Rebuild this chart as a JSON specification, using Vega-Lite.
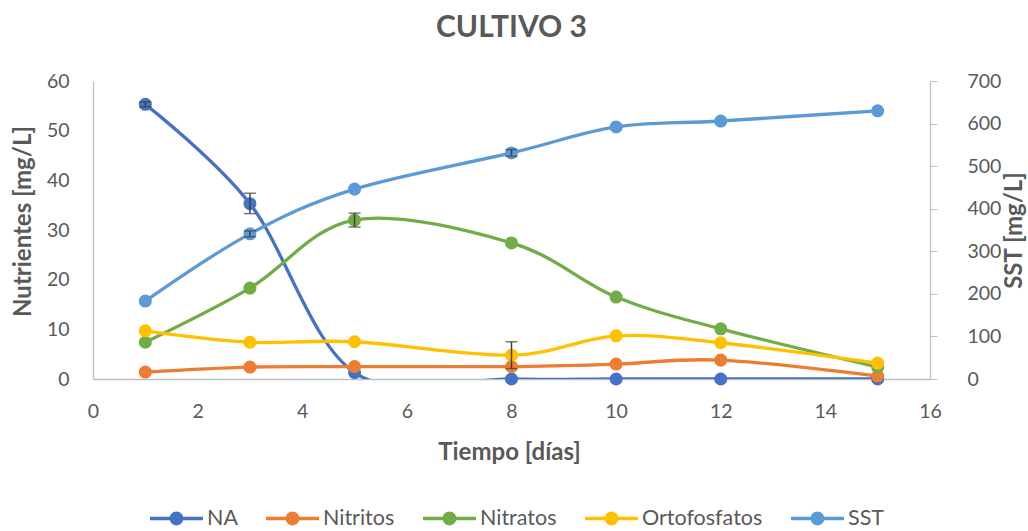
{
  "$schema": "https://vega.github.io/schema/vega-lite/v6.json",
  "width": 837,
  "height": 298,
  "autosize": {"type": "none"},
  "padding": {"left": 93, "top": 81, "right": 98, "bottom": 152},
  "title": {"text": "CULTIVO 3", "fontSize": 30, "fontWeight": "bold", "color": "#595959", "font": "Lato", "anchor": "middle", "offset": 28},
  "data": {
    "values": [
      {"dia": 1, "serie": "NA", "valor": 55.3, "lo": 54.8, "hi": 55.8},
      {"dia": 3, "serie": "NA", "valor": 35.3, "lo": 33.3, "hi": 37.4},
      {"dia": 5, "serie": "NA", "valor": 1.3},
      {"dia": 8, "serie": "NA", "valor": 0},
      {"dia": 10, "serie": "NA", "valor": 0},
      {"dia": 12, "serie": "NA", "valor": 0},
      {"dia": 15, "serie": "NA", "valor": 0},
      {"dia": 1, "serie": "Nitritos", "valor": 1.4},
      {"dia": 3, "serie": "Nitritos", "valor": 2.4},
      {"dia": 5, "serie": "Nitritos", "valor": 2.5},
      {"dia": 8, "serie": "Nitritos", "valor": 2.5},
      {"dia": 10, "serie": "Nitritos", "valor": 3.0},
      {"dia": 12, "serie": "Nitritos", "valor": 3.8},
      {"dia": 15, "serie": "Nitritos", "valor": 0.6},
      {"dia": 1, "serie": "Nitratos", "valor": 7.4},
      {"dia": 3, "serie": "Nitratos", "valor": 18.3},
      {"dia": 5, "serie": "Nitratos", "valor": 32.0, "lo": 30.6, "hi": 33.4},
      {"dia": 8, "serie": "Nitratos", "valor": 27.4},
      {"dia": 10, "serie": "Nitratos", "valor": 16.5},
      {"dia": 12, "serie": "Nitratos", "valor": 10.1},
      {"dia": 15, "serie": "Nitratos", "valor": 2.4},
      {"dia": 1, "serie": "Ortofosfatos", "valor": 9.7},
      {"dia": 3, "serie": "Ortofosfatos", "valor": 7.4},
      {"dia": 5, "serie": "Ortofosfatos", "valor": 7.5},
      {"dia": 8, "serie": "Ortofosfatos", "valor": 4.8, "lo": 2.1, "hi": 7.5},
      {"dia": 10, "serie": "Ortofosfatos", "valor": 8.7},
      {"dia": 12, "serie": "Ortofosfatos", "valor": 7.3},
      {"dia": 15, "serie": "Ortofosfatos", "valor": 3.2},
      {"dia": 1, "serie": "SST", "valor": 183},
      {"dia": 3, "serie": "SST", "valor": 341, "lo": 334, "hi": 348},
      {"dia": 5, "serie": "SST", "valor": 446},
      {"dia": 8, "serie": "SST", "valor": 531, "lo": 523, "hi": 539},
      {"dia": 10, "serie": "SST", "valor": 592},
      {"dia": 12, "serie": "SST", "valor": 606},
      {"dia": 15, "serie": "SST", "valor": 630}
    ]
  },
  "encoding": {
    "x": {
      "field": "dia", "type": "quantitative",
      "scale": {"domain": [0, 16], "nice": false},
      "axis": {"title": "Tiempo [días]", "values": [0, 2, 4, 6, 8, 10, 12, 14, 16], "ticks": false, "labelFlush": false, "labelPadding": 23, "titleX": 416, "titleY": 73, "titleBaseline": "middle", "titleAlign": "center"}
    },
    "color": {
      "field": "serie", "type": "nominal",
      "scale": {"domain": ["NA", "Nitritos", "Nitratos", "Ortofosfatos", "SST"], "range": ["#4472C4", "#ED7D31", "#70AD47", "#FFC000", "#5B9BD5"]},
      "legend": {
        "title": null,
        "orient": "none",
        "direction": "horizontal",
        "legendX": 57,
        "legendY": 411,
        "symbolType": "M-1,-0.066H1V0.066H-1Z M0.26,0A0.26,0.26 0 1,1 -0.26,0A0.26,0.26 0 1,1 0.26,0Z",
        "symbolSize": 2809,
        "symbolStrokeWidth": 0,
        "labelFontSize": 21.5,
        "labelColor": "#595959",
        "labelOffset": 4,
        "columnPadding": 28,
        "encode": {"symbols": {"update": {"fill": {"scale": "color", "field": "value"}, "stroke": {"value": "transparent"}, "opacity": {"value": 1}}}}
      }
    }
  },
  "layer": [
    {
      "transform": [{"filter": "datum.serie !== 'SST'"}],
      "encoding": {
        "y": {
          "field": "valor", "type": "quantitative", "title": "Nutrientes [mg/L]",
          "scale": {"domain": [0, 60], "nice": false},
          "axis": {"orient": "left", "values": [0, 10, 20, 30, 40, 50, 60], "ticks": false, "labelPadding": 24, "titleX": -70, "titleY": 140, "titleAngle": 270, "titleBaseline": "middle", "titleAlign": "center"}
        }
      },
      "layer": [
        {"mark": {"type": "line", "interpolate": "cardinal", "strokeWidth": 3.3, "clip": true}},
        {"mark": {"type": "point", "filled": true, "size": 170, "opacity": 1}},
        {
          "transform": [{"filter": "isValid(datum.lo)"}],
          "mark": {"type": "rule", "color": "#404040", "strokeWidth": 1.5},
          "encoding": {"y": {"field": "lo", "type": "quantitative", "title": "Nutrientes [mg/L]"}, "y2": {"field": "hi"}, "color": {"value": "#404040"}}
        },
        {
          "transform": [{"filter": "isValid(datum.lo)"}],
          "mark": {"type": "tick", "orient": "horizontal", "color": "#404040", "thickness": 1.5, "size": 12},
          "encoding": {"y": {"field": "lo", "type": "quantitative", "title": "Nutrientes [mg/L]"}, "color": {"value": "#404040"}}
        },
        {
          "transform": [{"filter": "isValid(datum.hi)"}],
          "mark": {"type": "tick", "orient": "horizontal", "color": "#404040", "thickness": 1.5, "size": 12},
          "encoding": {"y": {"field": "hi", "type": "quantitative", "title": "Nutrientes [mg/L]"}, "color": {"value": "#404040"}}
        }
      ]
    },
    {
      "transform": [{"filter": "datum.serie === 'SST'"}],
      "encoding": {
        "y": {
          "field": "valor", "type": "quantitative", "title": "SST [mg/L]",
          "scale": {"domain": [0, 700], "nice": false},
          "axis": {"orient": "right", "values": [0, 100, 200, 300, 400, 500, 600, 700], "ticks": true, "tickSize": 7, "tickColor": "#bfbfbf", "labelPadding": 30, "titleX": 84, "titleY": 149, "titleAngle": 270, "titleBaseline": "middle", "titleAlign": "center"}
        }
      },
      "layer": [
        {"mark": {"type": "line", "interpolate": "cardinal", "strokeWidth": 3.3, "clip": true}},
        {"mark": {"type": "point", "filled": true, "size": 170, "opacity": 1}},
        {
          "transform": [{"filter": "isValid(datum.lo)"}],
          "mark": {"type": "rule", "color": "#404040", "strokeWidth": 1.5},
          "encoding": {"y": {"field": "lo", "type": "quantitative", "title": "SST [mg/L]"}, "y2": {"field": "hi"}, "color": {"value": "#404040"}}
        },
        {
          "transform": [{"filter": "isValid(datum.lo)"}],
          "mark": {"type": "tick", "orient": "horizontal", "color": "#404040", "thickness": 1.5, "size": 12},
          "encoding": {"y": {"field": "lo", "type": "quantitative", "title": "SST [mg/L]"}, "color": {"value": "#404040"}}
        },
        {
          "transform": [{"filter": "isValid(datum.hi)"}],
          "mark": {"type": "tick", "orient": "horizontal", "color": "#404040", "thickness": 1.5, "size": 12},
          "encoding": {"y": {"field": "hi", "type": "quantitative", "title": "SST [mg/L]"}, "color": {"value": "#404040"}}
        }
      ]
    }
  ],
  "resolve": {"scale": {"y": "independent"}},
  "config": {
    "font": "Lato",
    "view": {"stroke": null},
    "axis": {
      "grid": false,
      "domainColor": "#bfbfbf",
      "domainWidth": 1.3,
      "labelColor": "#595959",
      "labelFontSize": 19.5,
      "labelFont": "Lato",
      "titleColor": "#595959",
      "titleFontSize": 24,
      "titleFontWeight": "bold",
      "titleFont": "Lato"
    },
    "legend": {"labelFont": "Lato"}
  }
}
